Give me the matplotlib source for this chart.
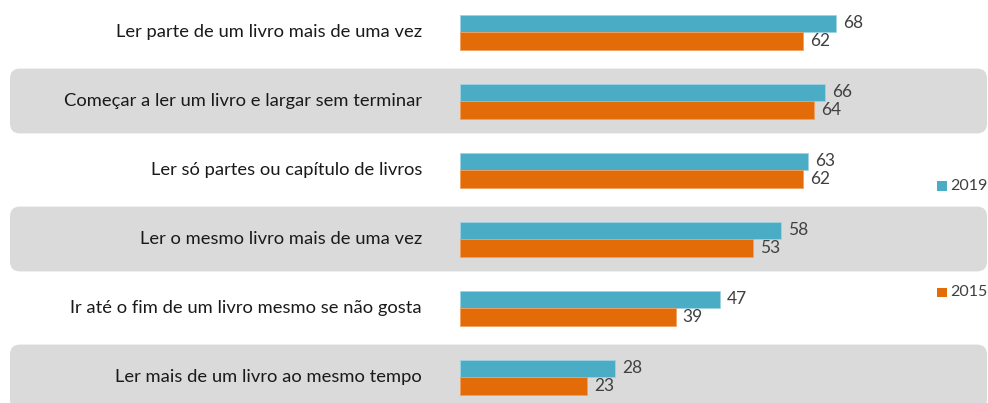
import matplotlib
matplotlib.use("Agg")
import matplotlib.pyplot as plt
from matplotlib.patches import FancyBboxPatch

categories = [
    "Ler parte de um livro mais de uma vez",
    "Começar a ler um livro e largar sem terminar",
    "Ler só partes ou capítulo de livros",
    "Ler o mesmo livro mais de uma vez",
    "Ir até o fim de um livro mesmo se não gosta",
    "Ler mais de um livro ao mesmo tempo",
]
values_2019 = [68, 66, 63, 58, 47, 28]
values_2015 = [62, 64, 62, 53, 39, 23]
series_labels = ["2019", "2015"]

C2019 = "#4bacc6"
C2015 = "#e36c09"
BAND = "#dadada"
FONT = "Lato"

W, H = 988, 403
fig = plt.figure(figsize=(W / 100, H / 100), dpi=100)
ax = fig.add_axes([0, 0, 1, 1])
pxu = 5.53        # pixels per value unit
x0 = 460          # pixel of zero
row_px = 69
first_px = 32
ax.set_xlim(-x0 / pxu, (W - x0) / pxu)
ax.set_ylim((H - first_px) / row_px, -first_px / row_px)
ax.axis("off")

bh = 17.5 / row_px
ys = list(range(len(categories)))

# alternating rounded bands
xl = -(x0 - 10) / pxu
xr = (W - 1 - x0) / pxu
rs = 1.8
for i in ys:
    if i % 2 == 1:
        band = FancyBboxPatch((xl, i - 0.47), xr - xl, 0.94,
                              boxstyle=f"round,pad=0,rounding_size={rs}",
                              mutation_aspect=(10 / row_px) / rs,
                              facecolor=BAND, edgecolor="none", zorder=0)
        ax.add_patch(band)

b1 = ax.barh([y - bh / 2 for y in ys], values_2019, height=bh, color=C2019,
             edgecolor="#9fd3e3", linewidth=0.6, zorder=2)
b2 = ax.barh([y + bh / 2 for y in ys], values_2015, height=bh, color=C2015,
             edgecolor="#f0a060", linewidth=0.6, zorder=2)

off = 7 / pxu
for y, v in zip(ys, values_2019):
    ax.text(v + off, y - bh / 2, str(v), va="center", ha="left",
            fontsize=12.5, color="#404040", family=FONT)
for y, v in zip(ys, values_2015):
    ax.text(v + off, y + bh / 2, str(v), va="center", ha="left",
            fontsize=12.5, color="#404040", family=FONT)

for y, c in zip(ys, categories):
    ax.text(-(x0 - 422) / pxu, y, c, va="center", ha="right",
            fontsize=13.2, color="#1a1a1a", family=FONT)

# legend entries
leg_y = [186 / H, 292 / H]
for yy, lab, col in zip(leg_y, series_labels, [C2019, C2015]):
    fig.patches.append(plt.Rectangle((937 / W, 1 - yy - 5 / H), 9.5 / W, 9.5 / H,
                                     transform=fig.transFigure, facecolor=col,
                                     edgecolor="none"))
    fig.text(950 / W, 1 - yy, lab, va="center", ha="left", fontsize=11.5,
             color="#404040", family=FONT)

fig.savefig("out.png", dpi=100)
